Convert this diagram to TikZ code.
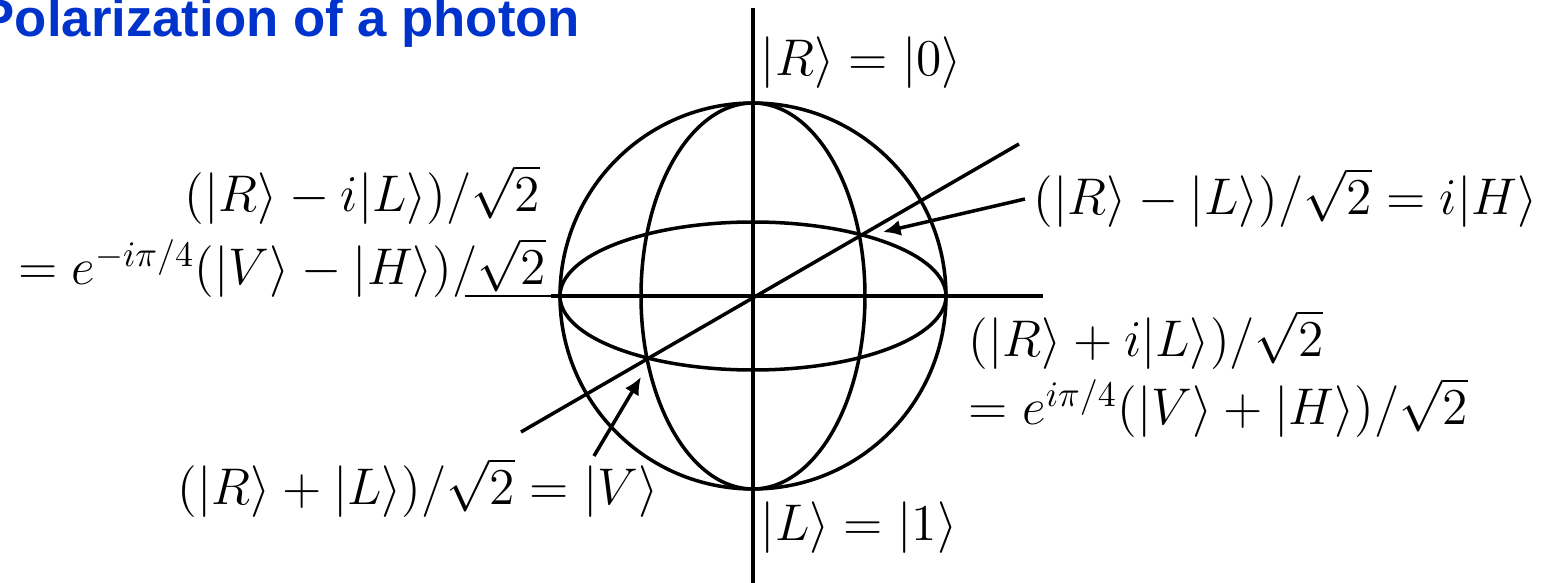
\documentclass[tikz,border=0pt]{standalone}
\usepackage{fontspec}
\newfontfamily\titlefont{Liberation Sans}
\usetikzlibrary{arrows.meta}
\definecolor{titulo}{RGB}{0,51,204}

\begin{document}
\begin{tikzpicture}[>={Latex[length=5pt,width=4.6pt]}, line width=1pt,
  etiq/.style={inner sep=0pt, font=\fontsize{14.4}{17}\selectfont, scale=1.02, transform shape}]
  \useasboundingbox (-7.53,-2.87) rectangle (7.93,2.96);
  % titulo
  \node[anchor=base west, inner sep=0pt, text=titulo,
        font=\titlefont\bfseries\fontsize{15}{18}\selectfont] (titulo) at (-7.75,2.59) {Polarization of a photon};
  % esfera de Poincare
  \draw (0,0) circle (1.93);
  \draw (0,0) ellipse (1.93 and 0.74);
  \draw (0,0) ellipse (1.12 and 1.93);
  % ejes
  \coordinate (ejeN) at (0,2.88);
  \coordinate (ejeS) at (0,-2.87);
  \coordinate (ejeO) at (-2.88,0);
  \coordinate (ejeOb) at (-2.02,0);
  \coordinate (ejeE) at (2.90,0);
  \coordinate (diagA) at (-2.32,-1.36);
  \coordinate (diagB) at (2.66,1.52);
  \draw (ejeN) -- (ejeS);
  \draw[line width=0.5pt] (ejeO) -- (ejeOb);
  \draw (ejeOb) -- (ejeE);
  \draw (diagA) -- (diagB);
  % polos
  \node[etiq, anchor=west] (polR) at (0.06,2.33) {$|R\rangle=|0\rangle$};
  \node[etiq, anchor=west] (polL) at (0.06,-2.32) {$|L\rangle=|1\rangle$};
  % estados sobre el ecuador
  \node[etiq, anchor=east] (menosA) at (-2.11,1.01) {$(|R\rangle-i|L\rangle)/\sqrt{2}$};
  \node[etiq, anchor=east] (menosB) at (-2.05,0.28) {$=e^{-i\pi/4}(|V\rangle-|H\rangle)/\sqrt{2}$};
  \node[etiq, anchor=west] (masA) at (2.14,-0.44) {$(|R\rangle+i|L\rangle)/\sqrt{2}$};
  \node[etiq, anchor=west] (masB) at (2.14,-1.12) {$=e^{i\pi/4}(|V\rangle+|H\rangle)/\sqrt{2}$};
  \node[etiq, anchor=west] (estH) at (2.79,0.98) {$(|R\rangle-|L\rangle)/\sqrt{2}=i|H\rangle$};
  \node[etiq, anchor=east] (estV) at (-0.93,-1.92) {$(|R\rangle+|L\rangle)/\sqrt{2}=|V\rangle$};
  % flechas
  \coordinate (colaH) at (2.72,0.97);
  \coordinate (puntaH) at (1.30,0.64);
  \coordinate (colaV) at (-1.59,-1.60);
  \coordinate (puntaV) at (-1.12,-0.81);
  \draw[->] (colaH) -- (puntaH);
  \draw[->] (colaV) -- (puntaV);
\end{tikzpicture}
\end{document}
